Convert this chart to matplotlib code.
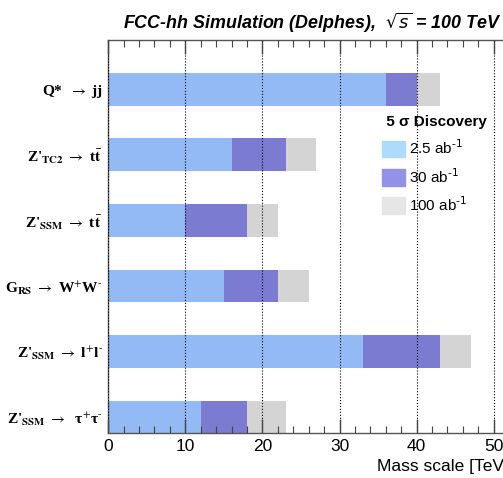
import matplotlib
matplotlib.use("Agg")
import matplotlib.pyplot as plt
from matplotlib.patches import Patch

# ============================================================
# Data (discovery reach in TeV)
# ============================================================
labels = [
    r"Z'$_{\mathbf{SSM}}$ $\rightarrow$  τ$^{\text{+}}$τ$^{\text{-}}$",
    r"Z'$_{\mathbf{SSM}}$ $\rightarrow$ l$^{\text{+}}$l$^{\text{-}}$",
    r"G$_{\mathbf{RS}}$ $\rightarrow$ W$^{\text{+}}$W$^{\text{-}}$",
    r"Z'$_{\mathbf{SSM}}$ $\rightarrow$ t$\bar{\mathbf{t}}$",
    r"Z'$_{\mathbf{TC2}}$ $\rightarrow$ t$\bar{\mathbf{t}}$",
    r"Q*  $\rightarrow$ jj",
]
lumi_2p5 = [12, 33, 15, 10, 16, 36]
lumi_30 = [18, 43, 22, 18, 23, 40]
lumi_100 = [23, 47, 26, 22, 27, 43]
legend_labels = [r"2.5 ab$^{\text{-1}}$", r"30 ab$^{\text{-1}}$", r"100 ab$^{\text{-1}}$"]

bar_colors = ["#93baf5", "#7b7bd1", "#d4d4d4"]
leg_colors = ["#aedbfd", "#9292e8", "#e6e6e6"]

fig = plt.figure(figsize=(5.03, 4.78), dpi=100)
ax = fig.add_axes([108.2 / 503, 0.0931, 424.1 / 503, 0.8232])

ypos = list(range(len(labels)))
ax.barh(ypos, lumi_100, height=0.5, align='edge', color=bar_colors[2], zorder=1)
ax.barh(ypos, lumi_30, height=0.5, align='edge', color=bar_colors[1], zorder=1)
ax.barh(ypos, lumi_2p5, height=0.5, align='edge', color=bar_colors[0], zorder=1)

ax.set_xlim(0, 55)
ax.set_ylim(0, 6)
ax.set_xticks(range(0, 51, 10))
ax.set_xticks(range(0, 55, 2), minor=True)
ax.set_yticks([y + 0.25 for y in ypos])
ax.set_yticklabels(labels, fontfamily="Liberation Serif", fontweight="bold",
                   fontsize=11.1, math_fontfamily="stix")
ax.tick_params(axis='y', length=0, pad=4)
ax.tick_params(axis='x', which='both', direction='in', top=True, bottom=True,
               color='#444444', labelsize=12.5, pad=4)
ax.tick_params(axis='x', which='major', length=10, width=1)
ax.tick_params(axis='x', which='minor', length=5, width=0.8)
for lab in ax.get_xticklabels():
    lab.set_fontfamily("Liberation Sans")

ax.set_axisbelow(False)
ax.xaxis.grid(True, which='major', linestyle=':', color='black', linewidth=0.8)
for s in ax.spines.values():
    s.set_color('#555555')
    s.set_linewidth(1)

ax.set_xlabel("Mass scale [TeV]", fontsize=12.5, fontfamily="Liberation Sans",
              ha='right')
ax.xaxis.set_label_coords((509 - 108.2) / 424.1, -0.065)

handles = [Patch(color=c, label=l) for c, l in zip(leg_colors, legend_labels)]
leg = ax.legend(handles=handles, title=" 5 σ Discovery", frameon=False,
                loc='upper left', bbox_to_anchor=((382 - 108.2) / 424.1, (433.5 - 115) / 393.5),
                prop={'family': 'Liberation Sans', 'size': 11},
                title_fontproperties={'family': 'Liberation Sans', 'weight': 'bold', 'size': 11},
                handlelength=1.5, handleheight=1.3, handletextpad=0.26,
                labelspacing=0.62, borderaxespad=0, borderpad=0)
leg._legend_box.align = "left"

fig.text(123 / 503, 1 - 23 / 478,
         r"FCC-hh Simulation (Delphes),  $\sqrt{s}$ = 100 TeV",
         fontfamily="Liberation Sans", fontstyle="italic", fontweight="bold",
         fontsize=12.9, ha='left', va='center', math_fontfamily="dejavusans")

fig.savefig("out.png", dpi=100)
